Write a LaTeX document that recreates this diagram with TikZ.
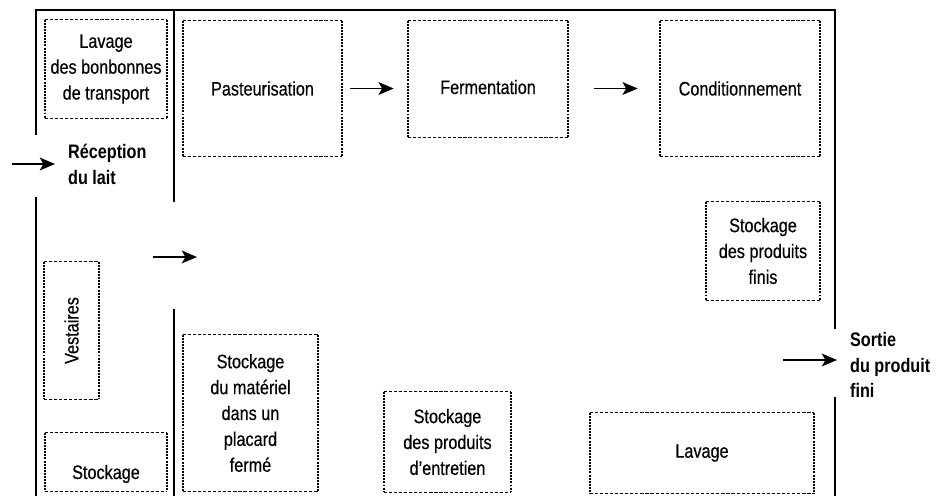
\documentclass[tikz,border=0pt]{standalone}
\usepackage{fontspec}
\setmainfont{Liberation Sans}[FakeStretch=0.83, UprightFeatures={FakeBold=0.4}]
\usetikzlibrary{arrows.meta, positioning, calc}
\tikzstyle{room} = [rectangle, align=center, inner sep=2pt]
\tikzstyle{hside} = [line width=1pt, dash pattern=on 2.3pt off 1.3pt]
\tikzstyle{vside} = [line width=1.3pt, dash pattern=on 1.4pt off 0.8pt]
\tikzstyle{tag} = [font=\fontsize{13.9pt}{18.4pt}\selectfont\bfseries, align=left, inner sep=2pt]
\tikzstyle{wall} = [line width=1.9pt]
\tikzstyle{arrow} = [line width=1.1pt, -{Stealth[length=0.38cm, width=0.32cm, inset=0.09cm]}]

\begin{document}
\begin{tikzpicture}[x=0.025cm, y=-0.025cm, font=\fontsize{13.9pt}{18.4pt}\selectfont]
\useasboundingbox (0,0) rectangle (940,496);
% Walls
\draw [wall] (36,135) -- (36,10) -- (835,10) -- (835,329);
\draw [wall] (36,197) -- (36,496);
\draw [wall] (174,10) -- (174,202);
\draw [wall] (174,309) -- (174,496);
\draw [wall] (835,397) -- (835,496);

% Rooms
\node (bonbonnes) [room, minimum width=3.05cm, minimum height=2.45cm] at (106,69) {Lavage\\des bonbonnes\\de transport};
\node (pasteur) [room, minimum width=3.975cm, minimum height=3.375cm] at (262.5,88.5) {Pasteurisation};
\node (ferment) [room, minimum width=4cm, minimum height=2.9cm, text height=0.75cm, text depth=0pt] at (488,79) {Fermentation};
\node (condit) [room, minimum width=4cm, minimum height=3.375cm] at (740,88.5) {Conditionnement};
\node (finis) [room, minimum width=2.85cm, minimum height=2.45cm] at (763,251) {Stockage\\des produits\\finis};
\node (lavage) [room, minimum width=5.6cm, minimum height=2cm] at (702,453) {Lavage};
\node (entretien) [room, minimum width=3.175cm, minimum height=2.5cm] at (447.5,442) {Stockage\\des produits\\d'entretien};
\node (materiel) [room, minimum width=3.375cm, minimum height=3.9cm] at (250.5,413) {Stockage\\du matériel\\dans un\\placard\\fermé};
\node (vestiaires) [room, minimum width=1.375cm, minimum height=3.425cm] at (71.5,330.5) {\rotatebox{90}{Vestaires}};
\node (stockage) [room, minimum width=3.05cm, minimum height=1.45cm, text height=0.85cm, text depth=0pt] at (106,462) {Stockage};

% Dotted outlines of the rooms
\foreach \r in {bonbonnes,pasteur,ferment,condit,finis,lavage,entretien,materiel,vestiaires,stockage} {
  \draw [hside] (\r.north west) -- (\r.north east) (\r.south west) -- (\r.south east);
  \draw [vside] (\r.north west) -- (\r.south west) (\r.north east) -- (\r.south east);
}

% Entry and exit
\node (reception) [tag, anchor=west] at (65,164) {Réception\\du lait};
\node (sortie) [tag, anchor=west] at (847,365) {Sortie\\du produit\\fini};
\coordinate (inlet) at (12,164);
\coordinate (outlet) at (783,360);
\coordinate (hallA) at (153,257);
\coordinate (hallB) at (197,257);

% Arrows
\draw [arrow, shorten >=0.25cm] (inlet) -- (reception.west);
\draw [arrow] (hallA) -- (hallB);
\draw [arrow, shorten <=0.2cm, shorten >=0.35cm] (pasteur.east) -- (pasteur.east -| ferment.west);
\draw [arrow, shorten <=0.65cm, shorten >=0.55cm] (condit.west -| ferment.east) -- (condit.west);
\draw [arrow, shorten >=0.25cm] (outlet) -- (outlet -| sortie.west);
\end{tikzpicture}
\end{document}
